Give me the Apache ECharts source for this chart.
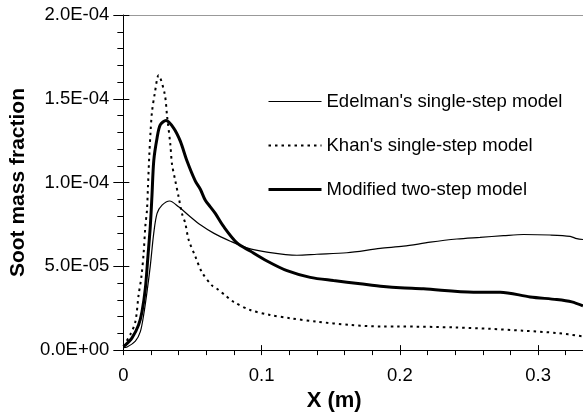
<!DOCTYPE html>
<html><head><meta charset="utf-8">
<script src="https://cdn.jsdelivr.net/npm/echarts@6/dist/echarts.min.js"></script>
<style>html,body{margin:0;padding:0;background:#fff}#c{width:583px;height:417px}</style>
</head><body><div id="c"></div>
<script>
var seriesNames = ["Edelman's single-step model", "Khan's single-step model", "Modified two-step model"];
var xTicks = [0, 0.1, 0.2, 0.3];
var yTickLabels = ["0.0E+00", "5.0E-05", "1.0E-04", "1.5E-04", "2.0E-04"];

var edelmanX = [0, 0.0027, 0.0087, 0.0123, 0.0147, 0.0171, 0.0195, 0.022, 0.0244, 0.028, 0.0335, 0.04, 0.0484, 0.0557, 0.0653, 0.0774, 0.0894, 0.1039, 0.1256, 0.14, 0.1617, 0.1858, 0.2027, 0.222, 0.2413, 0.258, 0.275, 0.2894, 0.3087, 0.3232, 0.328, 0.3325];
var edelmanY = [0.15e-5, 0.18e-5, 0.53e-5, 1.1e-5, 2.1e-5, 3.46e-5, 5.03e-5, 6.98e-5, 8.16e-5, 8.65e-5, 8.9e-5, 8.55e-5, 7.96e-5, 7.48e-5, 6.98e-5, 6.5e-5, 6.1e-5, 5.85e-5, 5.66e-5, 5.72e-5, 5.81e-5, 6.07e-5, 6.2e-5, 6.44e-5, 6.63e-5, 6.73e-5, 6.83e-5, 6.9e-5, 6.87e-5, 6.79e-5, 6.65e-5, 6.6e-5];

var khanX = [0, 0.005, 0.0087, 0.011, 0.013, 0.0147, 0.0159, 0.0171, 0.0178, 0.0188, 0.0197, 0.0207, 0.0227, 0.0255, 0.0299, 0.0316, 0.034, 0.0352, 0.0376, 0.04, 0.0424, 0.0448, 0.0472, 0.052, 0.0569, 0.0641, 0.0677, 0.0737, 0.0797, 0.0918, 0.106, 0.1207, 0.14, 0.164, 0.188, 0.198, 0.241, 0.265, 0.289, 0.3135, 0.3325];
var khanY = [0.23e-5, 0.92e-5, 1.7e-5, 3.27e-5, 4.34e-5, 5.81e-5, 7.38e-5, 8.36e-5, 9.73e-5, 11.68e-5, 13.05e-5, 14.2e-5, 15.3e-5, 16.4e-5, 15.3e-5, 14.0e-5, 12.27e-5, 11.1e-5, 10.1e-5, 9.14e-5, 8.16e-5, 7.57e-5, 6.6e-5, 5.6e-5, 4.64e-5, 3.86e-5, 3.66e-5, 3.27e-5, 2.88e-5, 2.39e-5, 2.1e-5, 1.9e-5, 1.7e-5, 1.5e-5, 1.41e-5, 1.41e-5, 1.35e-5, 1.27e-5, 1.16e-5, 1.02e-5, 0.82e-5];

var modifiedX = [0, 0.0014, 0.0063, 0.011, 0.0135, 0.0159, 0.0178, 0.0195, 0.0207, 0.022, 0.0244, 0.0267, 0.0309, 0.0364, 0.0412, 0.046, 0.052, 0.0557, 0.0593, 0.0629, 0.0665, 0.0725, 0.0822, 0.0918, 0.1039, 0.1184, 0.1352, 0.152, 0.1714, 0.1882, 0.2003, 0.2171, 0.2533, 0.2726, 0.2943, 0.3135, 0.3244, 0.3325];
var modifiedY = [0.25e-5, 0.3e-5, 0.73e-5, 1.5e-5, 2.29e-5, 3.66e-5, 5.6e-5, 7.38e-5, 9.2e-5, 11.3e-5, 12.66e-5, 13.44e-5, 13.7e-5, 13.25e-5, 12.47e-5, 11.3e-5, 10.1e-5, 9.6e-5, 8.94e-5, 8.55e-5, 8.16e-5, 7.38e-5, 6.4e-5, 5.91e-5, 5.32e-5, 4.74e-5, 4.34e-5, 4.15e-5, 3.96e-5, 3.8e-5, 3.72e-5, 3.66e-5, 3.46e-5, 3.46e-5, 3.17e-5, 3.02e-5, 2.88e-5, 2.64e-5];

function pairs(xs, ys) { return xs.map(function (x, i) { return [x, ys[i]]; }); }

var FONT = 'Liberation Sans, Arial, sans-serif';
var XMAX = 0.3325;
var lineStyles = [
  { color: '#000', width: 1.2, type: 'solid' },
  { color: '#000', width: 2, type: [2.5, 4] },
  { color: '#000', width: 3, type: 'solid' }
];
var chart = echarts.init(document.getElementById('c'), null, { renderer: 'canvas' });

var baseX = { type: 'value', min: 0, max: XMAX, interval: 0.1, gridIndex: 0 };
var baseY = { type: 'value', min: 0, max: 2e-4, interval: 5e-5, gridIndex: 0 };

chart.setOption({
  animation: false,
  backgroundColor: '#fff',
  grid: { left: 123, right: 0, top: 15, bottom: 61, containLabel: false },
  legend: {
    orient: 'vertical', left: 262, top: 87, itemWidth: 53, itemHeight: 18, itemGap: 25,
    itemStyle: { opacity: 0, borderWidth: 0 },
    textStyle: { fontFamily: FONT, fontSize: 18.5, color: '#000' },
    data: seriesNames.map(function (n, i) {
      return { name: n, lineStyle: { width: lineStyles[i].width, type: lineStyles[i].type, color: '#000' } };
    })
  },
  xAxis: [
    Object.assign({}, baseX, {
      position: 'bottom',
      name: 'X (m)', nameLocation: 'middle', nameGap: 36,
      nameTextStyle: { fontFamily: FONT, fontSize: 22, fontWeight: 'bold', color: '#000', padding: [0, 38, 0, 0] },
      axisLine: { onZero: false, lineStyle: { color: '#000', width: 1 } },
      axisTick: { show: true, inside: false, length: 5, lineStyle: { color: '#000' } },
      minorTick: { show: true, splitNumber: 5, length: 5, lineStyle: { color: '#000' } },
      axisLabel: { margin: 16, fontFamily: FONT, fontSize: 18.5, color: '#000', showMaxLabel: false,
        formatter: function (v) { return xTicks.indexOf(Math.round(v * 10) / 10) >= 0 && Math.abs(v * 10 - Math.round(v * 10)) < 1e-6 ? String(Math.round(v * 10) / 10) : ''; } },
      splitLine: { show: false }
    }),
    Object.assign({}, baseX, {
      position: 'bottom',
      axisLine: { show: false, onZero: false },
      axisTick: { show: true, inside: true, length: 5, lineStyle: { color: '#000' } },
      axisLabel: { show: false }, splitLine: { show: false }
    }),
    Object.assign({}, baseX, {
      position: 'top',
      axisLine: { show: true, onZero: false, lineStyle: { color: '#999', width: 1 } },
      axisTick: { show: false }, axisLabel: { show: false }, splitLine: { show: false }
    })
  ],
  yAxis: [
    Object.assign({}, baseY, {
      position: 'left',
      name: 'Soot mass fraction', nameLocation: 'middle', nameGap: 87,
      nameTextStyle: { fontFamily: FONT, fontSize: 21, fontWeight: 'bold', color: '#000' },
      axisLine: { show: true, onZero: false, lineStyle: { color: '#000', width: 1 } },
      axisTick: { show: true, inside: false, length: 10, lineStyle: { color: '#000' } },
      minorTick: { show: true, splitNumber: 5, length: 6, lineStyle: { color: '#000' } },
      axisLabel: { margin: 14, fontFamily: FONT, fontSize: 18.5, color: '#000',
        formatter: function (v) { return yTickLabels[Math.round(v / 5e-5)]; } },
      splitLine: { show: false }
    }),
    Object.assign({}, baseY, {
      position: 'left',
      axisLine: { show: false, onZero: false },
      axisTick: { show: true, inside: true, length: 6, lineStyle: { color: '#000' } },
      axisLabel: { show: false }, splitLine: { show: false }
    })
  ],
  series: [
    { name: seriesNames[0], type: 'line', xAxisIndex: 0, yAxisIndex: 0, data: pairs(edelmanX, edelmanY),
      showSymbol: false, symbol: 'none', smooth: 0.3, clip: true,
      lineStyle: lineStyles[0], itemStyle: { color: '#000' } },
    { name: seriesNames[1], type: 'line', xAxisIndex: 0, yAxisIndex: 0, data: pairs(khanX, khanY),
      showSymbol: false, symbol: 'none', smooth: 0.3, clip: true,
      lineStyle: lineStyles[1], itemStyle: { color: '#000' } },
    { name: seriesNames[2], type: 'line', xAxisIndex: 0, yAxisIndex: 0, data: pairs(modifiedX, modifiedY),
      showSymbol: false, symbol: 'none', smooth: 0.3, clip: true,
      lineStyle: lineStyles[2], itemStyle: { color: '#000' } }
  ]
});
</script></body></html>
